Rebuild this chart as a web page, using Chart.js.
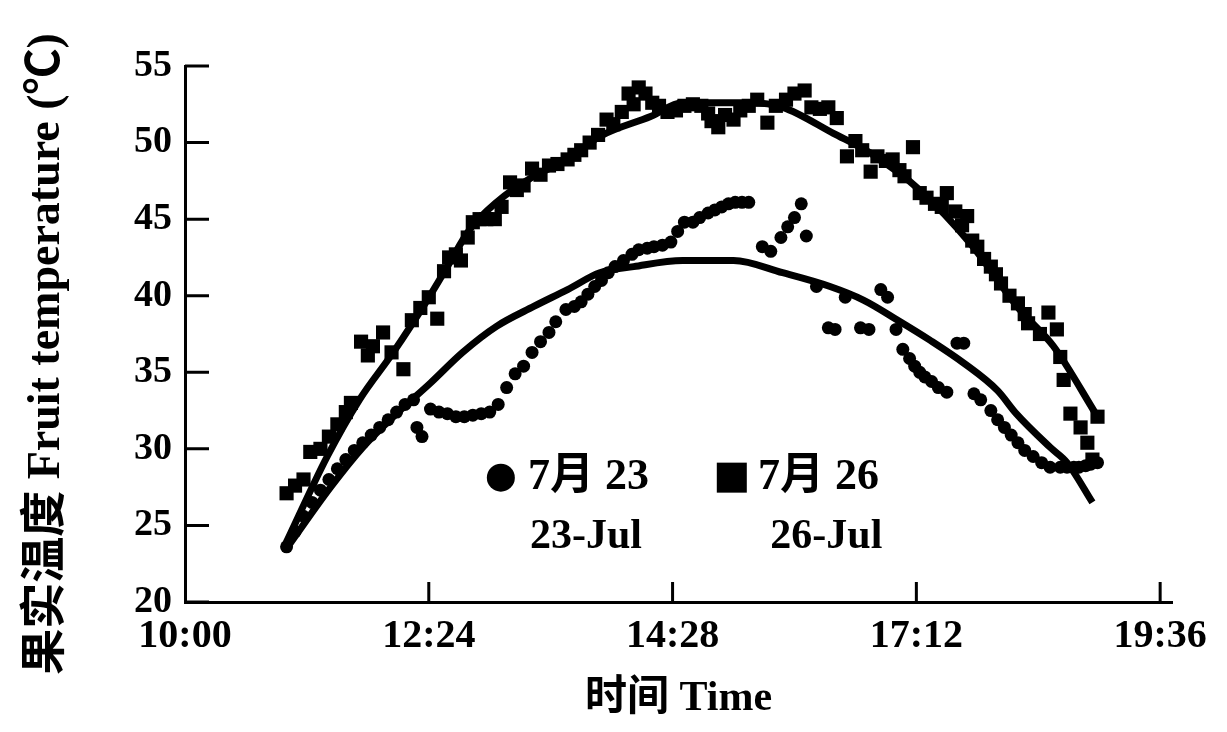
<!DOCTYPE html>
<html>
<head>
<meta charset="utf-8">
<script src="https://cdn.jsdelivr.net/npm/chart.js@4.4.1/dist/chart.umd.min.js"></script>
<style>
  html, body { margin: 0; padding: 0; background: #fff; }
  #wrap { width: 1227px; height: 732px; }
</style>
</head>
<body>
<div id="wrap"><canvas id="c" width="1227" height="732"></canvas></div>
<script>
// x = minutes after 10:00
const tickValues = [0, 144, 288, 432, 576];
const tickLabels = ['10:00', '12:24', '14:28', '17:12', '19:36'];

// 7月23 measured (circles)
const jul23Min = [60,65,70,75,80,85,90,95,100,105,110,115,120,125,130,135,137,140,145,150,155,160,165,170,175,180,185,190,195,200,205,210,215,219,225,230,234,238,242,246,250,254,259,264,268,273,277,282,287,291,295,300,304,309,313,317,321,325,329,333,341,346,352,356,360,364,367,373,380,384,390,399,404,411,415,420,424,428,431,434,437,441,445,450,456,460,466,470,476,480,484,488,492,496,501,506,511,517,521,525,528,532,535,539];
const jul23Temp = [23.6,24.6,25.6,26.5,27.3,28.0,28.7,29.3,29.9,30.4,30.9,31.4,31.9,32.4,32.9,33.2,31.4,30.8,32.6,32.4,32.3,32.1,32.1,32.2,32.3,32.4,32.9,34.0,34.9,35.4,36.3,37.0,37.6,38.3,39.1,39.3,39.6,40.1,40.6,41.0,41.5,41.9,42.3,42.7,43.0,43.1,43.2,43.3,43.5,44.2,44.8,44.8,45.1,45.4,45.6,45.8,46.0,46.1,46.1,46.1,43.2,42.9,43.8,44.5,45.1,46.0,43.9,40.6,37.9,37.8,39.9,37.9,37.8,40.4,39.9,37.8,36.5,35.9,35.4,35.0,34.7,34.4,34.0,33.7,36.9,36.9,33.6,33.2,32.5,31.9,31.4,30.9,30.4,29.9,29.5,29.1,28.8,28.8,28.8,28.8,28.8,28.9,29.0,29.1];

// 7月26 measured (squares)
const jul26Min = [60,65,70,74,80,85,90,95,98,104,108,111,117,122,129,134,139,144,149,153,156,160,163,167,170,174,178,183,187,192,196,200,205,210,215,220,226,230,234,239,244,249,253,258,262,265,268,272,276,280,285,290,295,300,305,309,311,315,319,324,328,333,338,344,349,355,360,366,370,375,380,385,391,396,400,405,409,414,418,422,425,430,434,438,443,447,450,455,459,462,465,468,472,476,479,482,487,492,496,498,505,510,515,517,519,523,529,533,536,539];
const jul26Temp = [27.1,27.6,28.0,29.8,30.0,30.8,31.6,32.4,33.0,37.0,36.1,36.7,37.6,36.3,35.2,38.4,39.2,39.9,38.5,41.6,42.5,42.7,42.3,43.8,44.8,45.0,45.0,45.0,45.8,47.4,46.9,47.2,48.3,47.9,48.5,48.6,48.9,49.2,49.5,50.0,50.5,51.5,51.2,52.0,53.2,52.5,53.6,53.2,52.6,52.4,52.0,52.1,52.4,52.5,52.4,51.9,51.4,51.0,51.8,51.5,52.1,52.4,52.8,51.3,52.4,52.8,53.2,53.4,52.3,52.2,52.3,51.6,49.1,50.1,49.5,48.1,49.1,48.8,48.9,48.2,47.8,49.7,46.7,46.4,46.0,45.8,46.7,45.5,44.6,45.2,43.6,43.2,42.4,41.9,41.4,40.8,40.0,39.5,38.8,38.2,37.5,38.9,37.8,36.0,34.5,32.3,31.4,30.4,29.3,32.1];

// fitted curves
const fit23Min = [60,86,105,125,145,164,184,206,226,245,265,294,324,353,381,401,421,440,460,480,491,511,521,536];
const fit23Temp = [23.5,27.5,30.1,32.3,34.3,36.3,38.0,39.3,40.4,41.5,41.9,42.3,42.3,41.5,40.6,39.7,38.4,37.1,35.6,33.8,32.3,30.1,29.1,26.5];
const fit26Min = [59,84,103,123,143,155,168,184,206,226,245,275,294,334,353,383,405,434,464,493,513,539];
const fit26Temp = [23.7,29.5,33.2,36.3,39.7,41.9,44.3,46.1,47.8,48.9,50.4,51.7,52.6,52.6,52.3,50.6,49.3,46.9,43.4,39.1,36.7,32.1];

const pts = (xs, ys) => xs.map((x, i) => ({ x: x, y: ys[i] }));

const FONT = '"Liberation Serif", "Noto Sans CJK SC", serif';

// 内向刻度、图例、纵轴标题
const decor = {
  id: 'decor',
  afterDraw(chart) {
    const { ctx, chartArea: a, scales } = chart;
    const w = a.right - a.left, h = a.bottom - a.top;
    ctx.save();
    ctx.strokeStyle = '#000';
    ctx.lineWidth = 3;
    ctx.beginPath();
    scales.y.ticks.forEach(t => {
      const y = scales.y.getPixelForValue(t.value);
      ctx.moveTo(a.left, y);
      ctx.lineTo(a.left + 24, y);
    });
    tickValues.slice(1).forEach(v => {
      const x = scales.x.getPixelForValue(v);
      ctx.moveTo(x, a.bottom);
      ctx.lineTo(x, a.bottom - 20);
    });
    ctx.stroke();

    // legend
    ctx.fillStyle = '#000';
    const r1 = a.top + h * 0.768, r2 = a.top + h * 0.879;
    ctx.beginPath();
    ctx.arc(a.left + w * 0.320, r1, 14, 0, Math.PI * 2);
    ctx.fill();
    ctx.fillRect(a.left + w * 0.554 - 15, r1 - 15, 30, 30);
    ctx.font = 'bold 44px ' + FONT;
    ctx.textBaseline = 'middle';
    ctx.textAlign = 'left';
    ctx.fillText('7月 23', a.left + w * 0.3475, r1);
    ctx.fillText('7月 26', a.left + w * 0.5805, r1);
    ctx.font = 'bold 42px ' + FONT;
    ctx.fillText('23-Jul', a.left + w * 0.3495, r2);
    ctx.fillText('26-Jul', a.left + w * 0.593, r2);

    // y title
    ctx.translate(47, 354);
    ctx.rotate(-Math.PI / 2);
    ctx.textAlign = 'center';
    ctx.font = 'bold 46px ' + FONT;
    ctx.fillText('果实温度 Fruit temperature (℃)', 0, 0);
    ctx.restore();
  }
};

Chart.defaults.color = '#000';

new Chart(document.getElementById('c'), {
  type: 'scatter',
  data: {
    datasets: [
      { label: '7月 23', data: pts(jul23Min, jul23Temp), pointStyle: 'circle', pointRadius: 6.5, backgroundColor: '#000', borderWidth: 0 },
      { label: '7月 26', data: pts(jul26Min, jul26Temp), pointStyle: 'rect', pointRadius: 10, backgroundColor: '#000', borderWidth: 0 },
      { label: 'fit 23', data: pts(fit23Min, fit23Temp), showLine: true, pointRadius: 0, borderColor: '#000', borderWidth: 7, cubicInterpolationMode: 'monotone' },
      { label: 'fit 26', data: pts(fit26Min, fit26Temp), showLine: true, pointRadius: 0, borderColor: '#000', borderWidth: 7, cubicInterpolationMode: 'monotone' }
    ]
  },
  options: {
    responsive: false,
    animation: false,
    devicePixelRatio: 1,
    layout: { padding: { top: 66, right: 55, left: 0, bottom: 0 } },
    plugins: { legend: { display: false }, tooltip: { enabled: false } },
    scales: {
      x: {
        type: 'linear', min: 0, max: 583,
        grid: { display: false, drawTicks: false },
        border: { display: true, color: '#000', width: 3 },
        afterBuildTicks: s => { s.ticks = tickValues.map(v => ({ value: v })); },
        afterFit: s => { s.height = 130; },
        ticks: {
          padding: 11,
          font: { family: FONT, size: 40, weight: 'bold' },
          callback: v => tickLabels[tickValues.indexOf(v)]
        },
        title: {
          display: true, text: '时间 Time',
          font: { family: FONT, size: 42, weight: 'bold' },
          padding: { top: 0, bottom: 8 }
        }
      },
      y: {
        min: 20, max: 55,
        grid: { display: false, drawTicks: false },
        border: { display: true, color: '#000', width: 3 },
        afterFit: s => { s.width = 185; },
        ticks: {
          stepSize: 5, padding: 13,
          font: { family: FONT, size: 38, weight: 'bold' }
        }
      }
    }
  },
  plugins: [decor]
});
</script>
</body>
</html>
